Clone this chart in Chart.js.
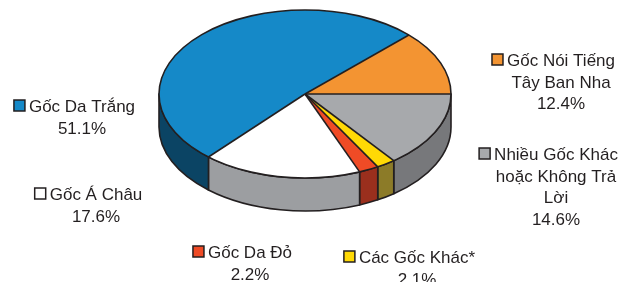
<!DOCTYPE html>
<html lang="vi">
<head>
<meta charset="UTF-8">
<title>Pie 3D</title>
<script src="https://cdn.jsdelivr.net/npm/chart.js"></script>
<style>
  body {
    margin: 0;
    padding: 0;
    background: #fff;
    overflow: hidden;
  }
  .chart-box {
    position: relative;
    width: 626px;
    height: 300px;
  }
</style>
</head>
<body>
<div class="chart-box">
  <canvas id="pie-chart"></canvas>
</div>
<script>
  // slices in clockwise order starting at 3 o'clock
  const categories = [
    ['Nhiều Gốc Khác', 'hoặc Không Trả', 'Lời'],
    ['Các Gốc Khác*'],
    ['Gốc Da Đỏ'],
    ['Gốc Á Châu'],
    ['Gốc Da Trắng'],
    ['Gốc Nói Tiếng', 'Tây Ban Nha']
  ];
  const values = [14.6, 2.1, 2.2, 17.6, 51.1, 12.4];

  const topColors  = ['#a7a9ac', '#ffd905', '#ef4b26', '#ffffff', '#1589c8', '#f39432'];
  const sideColors = ['#77787b', '#8c7b28', '#9a2f1d', '#9c9ea1', '#0b4464', '#b86a1e'];
  const lineColor = '#231f20';

  // where the flat pie sits on the page
  const pie = { cx: 305, cy: 94, rx: 146, ry: 84, depth: 33 };

  // label blocks: centre x and first baseline
  const labelPos = [
    { cx: 556, y: 160 },
    { cx: 417, y: 263 },
    { cx: 250, y: 258 },
    { cx: 96, y: 200 },
    { cx: 82, y: 112 },
    { cx: 561, y: 66 }
  ];

  const pie3d = {
    id: 'pie3d',
    beforeDatasetsDraw(chart) {
      const ctx = chart.ctx;
      const arcs = chart.getDatasetMeta(0).data;
      const { cx, cy, rx, ry, depth } = pie;
      ctx.save();
      ctx.lineWidth = 1.6;
      ctx.strokeStyle = lineColor;
      ctx.lineJoin = 'round';
      arcs.forEach((arc, i) => {
        const a1 = Math.max(arc.startAngle, 0);
        const a2 = Math.min(arc.endAngle, Math.PI);
        if (a2 <= a1) return;
        ctx.beginPath();
        ctx.ellipse(cx, cy, rx, ry, 0, a1, a2, false);
        ctx.lineTo(cx + rx * Math.cos(a2), cy + depth + ry * Math.sin(a2));
        ctx.ellipse(cx, cy + depth, rx, ry, 0, a2, a1, true);
        ctx.closePath();
        ctx.fillStyle = sideColors[i];
        ctx.fill();
        ctx.stroke();
      });
      ctx.restore();

      // squash the chart's own circle into the top ellipse
      const a0 = arcs[0];
      ctx.save();
      ctx.translate(cx, cy);
      ctx.scale(rx / a0.outerRadius, ry / a0.outerRadius);
      ctx.translate(-a0.x, -a0.y);
    },
    afterDatasetsDraw(chart) {
      const ctx = chart.ctx;
      ctx.restore();
      const arcs = chart.getDatasetMeta(0).data;
      const { cx, cy, rx, ry } = pie;
      ctx.save();
      ctx.lineWidth = 1.6;
      ctx.strokeStyle = lineColor;
      ctx.beginPath();
      ctx.ellipse(cx, cy, rx, ry, 0, 0, Math.PI * 2);
      ctx.stroke();
      arcs.forEach(arc => {
        ctx.beginPath();
        ctx.moveTo(cx, cy);
        ctx.lineTo(cx + rx * Math.cos(arc.startAngle), cy + ry * Math.sin(arc.startAngle));
        ctx.stroke();
      });
      ctx.restore();
    },
    afterDraw(chart) {
      const ctx = chart.ctx;
      ctx.save();
      ctx.font = '17px "Liberation Sans", Arial, sans-serif';
      ctx.fillStyle = lineColor;
      ctx.textAlign = 'center';
      ctx.textBaseline = 'alphabetic';
      categories.forEach((lines, i) => {
        const p = labelPos[i];
        const all = lines.concat([values[i].toFixed(1) + '%']);
        all.forEach((t, k) => {
          ctx.fillText(t, p.cx, p.y + k * 21.5);
        });
        const w = ctx.measureText(all[0]).width;
        const left = p.cx - w / 2;
        ctx.fillStyle = topColors[i];
        ctx.fillRect(left - 15, p.y - 12, 11, 11);
        ctx.lineWidth = 1.5;
        ctx.strokeStyle = lineColor;
        ctx.strokeRect(left - 15, p.y - 12, 11, 11);
        ctx.fillStyle = lineColor;
      });
      ctx.restore();
    }
  };

  const ctx = document.getElementById('pie-chart').getContext('2d');
  const chart = new Chart(ctx, {
    type: 'pie',
    data: {
      labels: categories,
      datasets: [{
        data: values,
        backgroundColor: topColors,
        borderWidth: 0
      }]
    },
    options: {
      responsive: true,
      maintainAspectRatio: false,
      animation: false,
      events: [],
      rotation: 90,
      layout: { padding: { left: 165, right: 165, top: 4, bottom: 4 } },
      plugins: {
        legend: { display: false },
        tooltip: { enabled: false }
      }
    },
    plugins: [pie3d]
  });
</script>
</body>
</html>
